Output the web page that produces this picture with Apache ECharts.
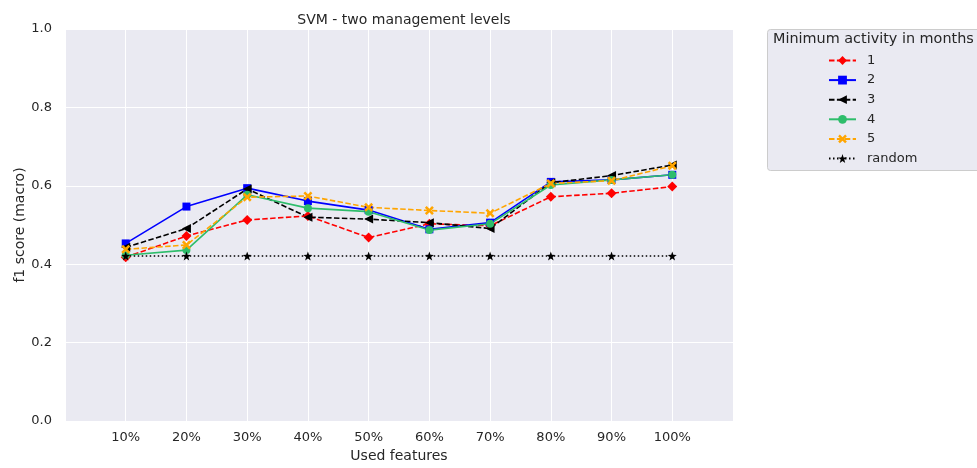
<html>
<head>
  <meta charset="utf-8">
  <title>SVM - two management levels</title>
  <script src="https://cdn.jsdelivr.net/npm/echarts@6/dist/echarts.min.js"></script>
  <style>
    html, body { margin: 0; width: 100%; height: 100%; background: #fff; }
    #chart { width: 977px; height: 468px; }
  </style>
</head>
<body>
  <div id="chart"></div>
  <script>
    var features = [10, 20, 30, 40, 50, 60, 70, 80, 90, 100];
    var month1 = [0.418, 0.472, 0.513, 0.523, 0.468, 0.503, 0.498, 0.572, 0.581, 0.598];
    var month2 = [0.453, 0.547, 0.594, 0.561, 0.538, 0.489, 0.506, 0.610, 0.615, 0.628];
    var month3 = [0.443, 0.491, 0.592, 0.520, 0.515, 0.506, 0.491, 0.608, 0.626, 0.653];
    var month4 = [0.423, 0.436, 0.577, 0.543, 0.534, 0.487, 0.503, 0.602, 0.615, 0.628];
    var month5 = [0.438, 0.449, 0.571, 0.574, 0.545, 0.537, 0.530, 0.606, 0.613, 0.651];
    var randomScore = [0.421, 0.421, 0.421, 0.421, 0.421, 0.421, 0.421, 0.421, 0.421, 0.421];

    var font = 'DejaVu Sans';
    var xMarker = 'path://M2,0 L5,3 L8,0 L10,2 L7,5 L10,8 L8,10 L5,7 L2,10 L0,8 L3,5 L0,2 Z';
    var starMarker = 'path://M5,0 L6.18,3.38 L9.76,3.45 L6.9,5.62 L7.94,9.05 L5,7 L2.06,9.05 L3.1,5.62 L0.24,3.45 L3.82,3.38 Z';

    function pairs(vals) {
      return features.map(function (f, i) { return [f, vals[i]]; });
    }

    function makeSeries(name, vals, color, symbol, size, dash, rotate) {
      return {
        name: name,
        type: 'line',
        data: pairs(vals),
        symbol: symbol,
        symbolSize: size,
        symbolRotate: rotate || 0,
        showAllSymbol: true,
        animation: false,
        lineStyle: { color: color, width: 1.6, type: dash },
        itemStyle: { color: color, borderWidth: 0 }
      };
    }

    var myChart = echarts.init(document.getElementById('chart'));
    var option = {
      backgroundColor: '#ffffff',
      textStyle: { fontFamily: font },
      title: {
        text: 'SVM - two management levels',
        left: 399, top: 8, textAlign: 'center',
        textStyle: { fontFamily: font, fontSize: 14, fontWeight: 'normal', color: '#262626' }
      },
      grid: { left: 65, right: 244, top: 29, bottom: 47, show: true, backgroundColor: '#EAEAF2', borderWidth: 0 },
      xAxis: {
        type: 'value', min: 0, max: 110, interval: 10,
        name: 'Used features', nameLocation: 'middle', nameGap: 28,
        nameTextStyle: { fontFamily: font, fontSize: 14, color: '#262626' },
        axisLine: { show: false }, axisTick: { show: false },
        axisLabel: {
          fontFamily: font, fontSize: 13, color: '#262626', margin: 10,
          formatter: function (v) { return (v === 0 || v === 110) ? '' : v + '%'; }
        },
        splitLine: { show: true, lineStyle: { color: '#ffffff', width: 1 } }
      },
      yAxis: {
        type: 'value', min: 0, max: 1, interval: 0.2,
        name: 'f1 score (macro)', nameLocation: 'middle', nameGap: 38, nameMoveOverlap: false,
        nameTextStyle: { fontFamily: font, fontSize: 14, color: '#262626' },
        axisLine: { show: false }, axisTick: { show: false },
        axisLabel: {
          fontFamily: font, fontSize: 13, color: '#262626', margin: 13,
          formatter: function (v) { return v.toFixed(1); }
        },
        splitLine: { show: true, lineStyle: { color: '#ffffff', width: 1 } }
      },
      graphic: [
        {
          type: 'rect', left: 767, top: 29, z: 0,
          shape: { width: 215, height: 141, r: 3 },
          style: { fill: '#EAEAF2', stroke: '#cccccc', lineWidth: 1 }
        },
        {
          type: 'text', left: 773, top: 32, z: 1,
          style: { text: 'Minimum activity in months', font: '14.4px "DejaVu Sans"', fill: '#262626' }
        }
      ],
      legend: {
        orient: 'vertical', left: 823, top: 49, itemGap: 6.6, itemWidth: 27, itemHeight: 11,
        textStyle: { fontFamily: font, fontSize: 13, color: '#262626', padding: [0, 0, 0, 6] },
        data: ['1', '2', '3', '4', '5', 'random']
      },
      series: [
        makeSeries('1', month1, '#ff0000', 'diamond', 10, [5.5, 2.4]),
        makeSeries('2', month2, '#0000ff', 'rect', 8, 'solid'),
        makeSeries('3', month3, '#000000', 'triangle', 9, [5.5, 2.4], 90),
        makeSeries('4', month4, '#2ebd6b', 'circle', 8, 'solid'),
        makeSeries('5', month5, '#ffa500', xMarker, 9, [5.5, 2.4]),
        makeSeries('random', randomScore, '#000000', starMarker, 9, [1.5, 2.5])
      ]
    };
    myChart.setOption(option);
  </script>
</body>
</html>
